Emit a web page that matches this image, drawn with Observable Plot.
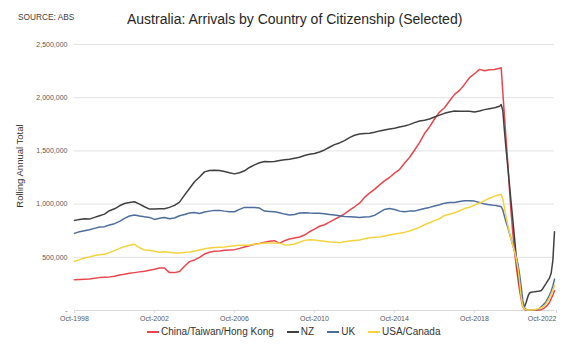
<!DOCTYPE html>
<html><head><meta charset="utf-8">
<script src="https://cdn.jsdelivr.net/npm/d3@7"></script>
<script src="https://cdn.jsdelivr.net/npm/@observablehq/plot@0.6"></script>
<style>
body{margin:0;background:#fff;font-family:"Liberation Sans",Arial,sans-serif;}
#wrap{position:relative;width:577px;height:355px;overflow:hidden;}
#chart{position:absolute;left:0;top:0;}
.abs{position:absolute;white-space:nowrap;line-height:1;}
#legend{display:flex;align-items:center;}
.item{display:flex;align-items:center;margin-right:13px;}
.sw{width:12px;height:2px;margin-right:2px;}
</style></head><body>
<div id="wrap">
<div id="chart"></div>
<div class="abs" style="left:18px;top:13px;font-size:8.3px;color:#404040;">SOURCE: ABS</div>
<div class="abs" style="left:127px;top:12px;font-size:14px;color:#262626;">Australia: Arrivals by Country of Citizenship (Selected)</div>
<div class="abs" style="left:20px;top:166px;font-size:9.5px;color:#333;transform:translate(-50%,-50%) rotate(-90deg);">Rolling Annual Total</div>
<div class="abs" id="legend" style="left:147px;top:327px;font-size:10px;color:#333;"></div>
</div>
<script>
// Series names and colours
const seriesNames = ["China/Taiwan/Hong Kong", "NZ", "UK", "USA/Canada"];
const seriesColors = ["#e8474f", "#404040", "#4e6d9c", "#f5d33f"];

// Dates: quarterly Oct-1998 .. Jul-2019, then monthly Oct-2019 .. Oct-2022
const quarterlyDates = d3.utcMonth.every(3).range(new Date(Date.UTC(1998, 9, 1)), new Date(Date.UTC(2019, 9, 1)));
const monthlyDates = d3.utcMonth.range(new Date(Date.UTC(2019, 9, 1)), new Date(Date.UTC(2022, 10, 1)));
const dates = [...quarterlyDates, ...monthlyDates];

// Values in thousands (rolling annual totals)
const china = [
 288,291,294,297,303,309,313,316,322,334,
 341,350,356,363,369,378,388,400,400,356,
 356,366,416,459,475,500,531,547,556,559,
 566,569,572,584,597,609,622,631,641,650,
 656,631,656,672,681,691,709,740,765,792,
 806,831,856,881,909,944,975,1009,1063,1103,
 1138,1181,1219,1250,1291,1325,1384,1438,1506,1578,
 1663,1725,1800,1865,1906,1969,2031,2069,2125,2188,
 2225,2266,2253,2263,
 2266,2270,2273,2276,2282,2050,1820,1600,1380,1140,
 910,720,560,420,300,190,100,35,10,5,
 3,2,2,2,2,3,4,5,8,15,
 25,38,55,75,110,145,185
];
const nz = [
 847,856,863,859,875,891,906,938,956,984,
 1006,1016,1022,1000,975,953,953,956,956,969,
 988,1019,1084,1147,1210,1255,1303,1316,1319,1316,
 1306,1294,1284,1294,1313,1344,1369,1388,1400,1397,
 1400,1409,1416,1422,1431,1441,1456,1469,1475,1490,
 1509,1534,1559,1575,1597,1625,1647,1659,1663,1666,
 1675,1688,1697,1706,1713,1725,1734,1747,1766,1781,
 1788,1800,1818,1836,1853,1866,1875,1872,1872,1872,
 1866,1875,1888,1897,
 1906,1910,1915,1920,1935,1880,1680,1510,1345,1180,
 1010,845,680,510,360,240,140,60,35,75,
 130,165,172,175,176,178,180,183,188,205,
 232,255,280,305,350,470,740
];
const uk = [
 725,741,750,759,772,784,788,803,816,838,
 866,888,897,888,881,875,856,866,875,863,
 869,891,903,916,922,911,925,934,941,941,
 934,928,928,950,969,969,969,963,934,931,
 928,919,906,897,903,916,919,916,915,913,
 909,903,897,891,884,881,878,875,878,881,
 894,922,950,959,950,934,928,934,934,947,
 959,969,983,994,1009,1016,1016,1025,1031,1031,
 1028,1016,1000,994,
 988,986,983,980,975,945,885,830,780,725,
 670,610,560,500,440,340,220,90,25,10,
 5,3,3,3,5,8,12,20,35,50,
 65,85,115,145,180,230,295
];
const usaCanada = [
 463,478,494,503,516,525,528,544,563,584,
 600,613,622,591,569,566,556,547,553,547,
 541,541,544,550,560,568,581,588,591,594,
 597,603,609,613,613,616,622,628,634,634,
 634,631,619,616,625,641,659,666,663,656,
 650,644,641,638,647,653,659,663,675,684,
 688,691,700,709,719,725,734,747,763,781,
 806,825,845,862,893,905,918,938,958,970,
 990,1012,1032,1055,
 1075,1079,1083,1087,1090,1050,960,880,800,730,
 670,610,560,490,400,270,120,40,15,8,
 5,4,4,5,8,12,16,20,25,35,
 45,65,90,120,155,190,235
];

// Axis ticks
const yTicks = [0, 500000, 1000000, 1500000, 2000000, 2500000];
const xTickYears = [1998, 2002, 2006, 2010, 2014, 2018, 2022];
const xTicks = xTickYears.map(y => new Date(Date.UTC(y, 9, 1)));

const allSeries = [china, nz, uk, usaCanada];
const rows = allSeries.flatMap((vals, s) => vals.map((v, i) => ({series: seriesNames[s], date: dates[i], value: v * 1000})));

const fmt = d3.format(",");
const xFmt = d3.utcFormat("%b-%Y");
const chart = Plot.plot({
  width: 577, height: 355,
  marginLeft: 74, marginRight: 23, marginTop: 44, marginBottom: 45,
  style: {fontFamily: "'Liberation Sans', Arial, sans-serif", fontSize: "7px", background: "transparent", color: "#595959"},
  x: {type: "utc", domain: [dates[0], dates[dates.length - 1]]},
  y: {domain: [0, 2500000]},
  color: {domain: seriesNames, range: seriesColors},
  marks: [
    Plot.gridY(yTicks, {stroke: "#e3e3e3", strokeOpacity: 1}),
    Plot.ruleY([0], {stroke: "#d9d9d9"}),
    Plot.axisY({ticks: yTicks, tickFormat: v => v === 0 ? "-" : fmt(v), tickSize: 0, tickPadding: 7, label: null, fill: "#595959"}),
    Plot.axisX({ticks: xTicks.slice(0, -1), tickFormat: xFmt, tickSize: 3, tickPadding: 3, label: null, stroke: "#d9d9d9", fill: "#595959"}),
    Plot.axisX({ticks: xTicks.slice(-1), tickFormat: xFmt, tickSize: 3, tickPadding: 3, label: null, stroke: "#d9d9d9", fill: "#595959", textAnchor: "end", dx: 2}),
    Plot.line(rows, {x: "date", y: "value", z: "series", stroke: "series", strokeWidth: 1.5})
  ]
});
document.getElementById("chart").appendChild(chart);

const legend = document.getElementById("legend");
seriesNames.forEach((n, i) => {
  const it = document.createElement("div");
  it.className = "item";
  it.innerHTML = `<span class="sw" style="background:${seriesColors[i]}"></span><span>${n}</span>`;
  legend.appendChild(it);
});
</script>
</body></html>
